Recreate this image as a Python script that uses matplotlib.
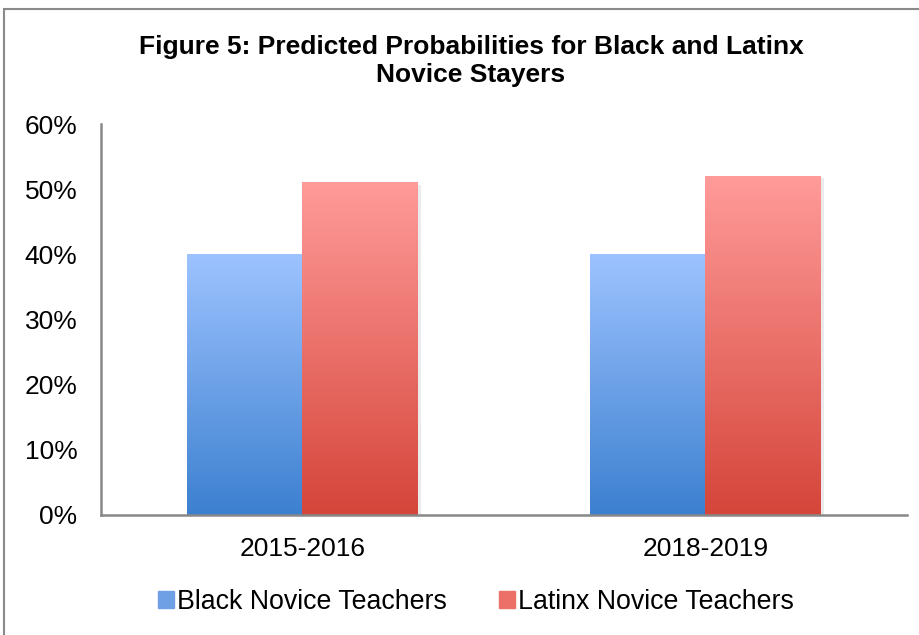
import numpy as np
import matplotlib.pyplot as plt
from matplotlib.colors import LinearSegmentedColormap
from matplotlib.patches import Rectangle

plt.rcParams['font.family'] = ['Liberation Sans', 'DejaVu Sans']

categories = ['2015-2016', '2018-2019']
black = [40, 40]
latinx = [51, 52]
series_names = ['Black Novice Teachers', 'Latinx Novice Teachers']
yticks = [0, 10, 20, 30, 40, 50, 60]

blue_map = LinearSegmentedColormap.from_list('b', ['#3c80d0', '#9dc3ff'])
red_map = LinearSegmentedColormap.from_list('r', ['#d5453a', '#ff9b99'])

W, H = 920, 635
fig = plt.figure(figsize=(W / 100, H / 100), dpi=100)
ax = fig.add_axes([101 / W, (H - 515) / H, (907 - 101) / W, (515 - 124) / H])

x = np.arange(len(categories))
bw = 0.287
grad = np.linspace(0, 1, 256).reshape(-1, 1)

for vals, off, cmap in [(black, -bw / 2, blue_map), (latinx, bw / 2, red_map)]:
    bars = ax.bar(x + off, vals, bw, color='none', edgecolor='none')
    for b in bars:
        x0, w, h = b.get_x(), b.get_width(), b.get_height()
        # soft shadow
        ax.add_patch(Rectangle((x0 + 0.006, -0.3), w, h, color='#000000',
                               alpha=0.08, lw=0, zorder=1))
        ax.imshow(grad, extent=[x0, x0 + w, 0, h], origin='lower',
                  aspect='auto', cmap=cmap, zorder=2)

ax.set_xlim(-0.5, 1.5)
ax.set_ylim(0, 60)
ax.set_xticks(x)
ax.set_xticklabels(categories, fontsize=19)
ax.set_yticks(yticks)
ax.set_yticklabels(['%d%%' % v for v in yticks], fontsize=19)
ax.tick_params(length=0)
ax.tick_params(axis='y', pad=17)
ax.tick_params(axis='x', pad=16)
for s in ['top', 'right']:
    ax.spines[s].set_visible(False)
for s in ['left', 'bottom']:
    ax.spines[s].set_color('#888888')
    ax.spines[s].set_linewidth(1.8)

fig.text(471 / W, 1 - 61 / H, 'Figure 5: Predicted Probabilities for Black and Latinx\nNovice Stayers',
         ha='center', va='center', fontsize=19, fontweight='bold', linespacing=1.2)

# legend
handles = [Rectangle((0, 0), 1, 1, color=c) for c in ['#6fa0e6', '#ec7068']]
fig.legend(handles, series_names, loc='center', bbox_to_anchor=(476 / W, 1 - 602 / H),
           ncol=2, frameon=False, fontsize=19.3, handlelength=0.6, handleheight=0.6,
           handletextpad=0.12, columnspacing=1.95)

# figure border
fig.add_artist(Rectangle((4 / W, -0.1), 1.2, 1 - 9 / H + 0.1, transform=fig.transFigure,
                         fill=False, edgecolor='#8a8a8a', lw=1.5))

fig.savefig('out.png', dpi=100)
